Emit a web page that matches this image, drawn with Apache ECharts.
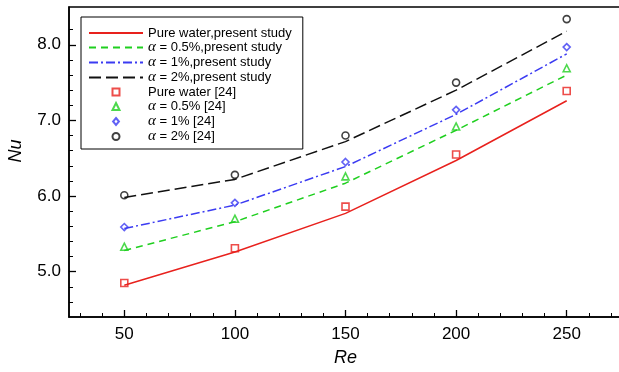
<!DOCTYPE html>
<html>
<head>
<meta charset="utf-8">
<script src="https://cdn.jsdelivr.net/npm/echarts@6/dist/echarts.min.js"></script>
<style>
  html, body { margin: 0; padding: 0; background: #fff; }
  #main { width: 619px; height: 372px; }
</style>
</head>
<body>
<div id="main"></div>
<script>
// Re values
const reValues = [50, 100, 150, 200, 250];

// present study (lines)
const pureWaterLine = [4.82, 5.26, 5.77, 6.47, 7.26];
const alpha05Line = [5.28, 5.66, 6.17, 6.87, 7.6];
const alpha1Line = [5.57, 5.88, 6.39, 7.08, 7.88];
const alpha2Line = [5.98, 6.22, 6.72, 7.4, 8.18];

// reference [24] (markers)
const pureWaterRef = [4.85, 5.31, 5.86, 6.55, 7.39];
const alpha05Ref = [5.33, 5.7, 6.26, 6.92, 7.69];
const alpha1Ref = [5.59, 5.91, 6.45, 7.14, 7.97];
const alpha2Ref = [6.01, 6.28, 6.8, 7.5, 8.34];

// ticks
const xMajorTicks = [50, 100, 150, 200, 250];
const xMinorTicks = [30, 40, 60, 70, 80, 90, 110, 120, 130, 140, 160, 170, 180, 190, 210, 220, 230, 240, 260, 270];
const yMajorTicks = [5.0, 6.0, 7.0, 8.0];
const yMinorTicks = [4.6, 4.8, 5.2, 5.4, 5.6, 5.8, 6.2, 6.4, 6.6, 6.8, 7.2, 7.4, 7.6, 7.8, 8.2];

const pairs = (ys) => reValues.map((x, i) => [x, ys[i]]);

const font = '"Liberation Sans", Arial, Helvetica, sans-serif';
const RED = '#e8211d', GREEN = '#1fcf1f', BLUE = '#3b3bf2', BLACK = '#111111';

// hollow marker outlines for the legend (kept to aspect)
const icons = {
  rect: 'path://M0,0L10,0L10,10L0,10Z',
  triangle: 'path://M5,0L10,10L0,10Z',
  diamond: 'path://M5,0L10,6L5,12L0,6Z',
  circle: 'path://M0,5A5,5 0 1,1 10,5A5,5 0 1,1 0,5Z'
};

const chart = echarts.init(document.getElementById('main'));

function lineSeries(name, data, color, type) {
  return {
    name: name, type: 'line', data: pairs(data), symbol: 'none',
    lineStyle: { color: color, width: 1.5, type: type },
    itemStyle: { color: color }, z: 2
  };
}
function markerSeries(name, data, color, symbol) {
  return {
    name: name, type: 'scatter', data: pairs(data), symbol: symbol, symbolSize: 7,
    itemStyle: { color: 'rgba(255,255,255,0)', borderColor: color, borderWidth: 1.6 }, z: 3
  };
}

const lineNames = ['Pure water,present study', 'α = 0.5%,present study', 'α = 1%,present study', 'α = 2%,present study'];
const refNames = ['Pure water [24]', 'α = 0.5% [24]', 'α = 1% [24]', 'α = 2% [24]'];
const refSymbols = ['rect', 'triangle', 'diamond', 'circle'];

const minMax = { min: 25, max: 275 };
const yMinMax = { min: 4.4, max: 8.5 };

const option = {
  animation: false,
  backgroundColor: '#fff',
  grid: {
    left: 69, top: 7, width: 553, height: 310,
    outerBoundsMode: 'none',
    show: true, borderColor: '#000', borderWidth: 1.5, backgroundColor: 'transparent'
  },
  legend: {
    orient: 'vertical', left: 81, top: 17,
    padding: [9, 11, 5, 7],
    backgroundColor: '#fff', borderColor: '#000', borderWidth: 1,
    itemWidth: 54, itemHeight: 7, itemGap: 0,
    symbolKeepAspect: true,
    textStyle: {
      fontFamily: font, fontSize: 13, color: '#000', lineHeight: 14,
      rich: { a: { fontFamily: '"Liberation Serif", "DejaVu Serif", serif', fontStyle: 'italic', fontSize: 15, lineHeight: 14 } }
    },
    formatter: (name) => name.replace('α', '{a|α}'),
    data: lineNames.map((n) => ({ name: n, itemStyle: { color: 'rgba(0,0,0,0)', borderWidth: 0 } }))
      .concat(refNames.map((n, i) => ({ name: n, icon: icons[refSymbols[i]] })))
  },
  xAxis: [
    Object.assign({
      type: 'value', name: 'Re', nameLocation: 'middle', nameGap: 32,
      nameTextStyle: { fontFamily: font, fontSize: 18, fontStyle: 'italic', color: '#000' },
      axisLine: { lineStyle: { color: '#000', width: 1.5 } },
      axisTick: { inside: true, length: 7, lineStyle: { color: '#000', width: 1.3 }, customValues: xMajorTicks },
      axisLabel: { customValues: xMajorTicks, fontFamily: font, fontSize: 17, color: '#000', margin: 9 },
      splitLine: { show: false }
    }, minMax),
    Object.assign({
      type: 'value', position: 'bottom',
      axisLine: { show: false },
      axisTick: { inside: true, length: 4, lineStyle: { color: '#000', width: 1 }, customValues: xMinorTicks },
      axisLabel: { show: false },
      splitLine: { show: false }
    }, minMax)
  ],
  yAxis: [
    Object.assign({
      type: 'value', name: 'Nu', nameLocation: 'middle', nameGap: 44, nameRotate: 90,
      nameTextStyle: { fontFamily: font, fontSize: 18, fontStyle: 'italic', color: '#000', padding: [0, 0, 0, 22] },
      axisLine: { lineStyle: { color: '#000', width: 1.5 } },
      axisTick: { inside: true, length: 7, lineStyle: { color: '#000', width: 1.3 }, customValues: yMajorTicks },
      axisLabel: { customValues: yMajorTicks, fontFamily: font, fontSize: 17, color: '#000', margin: 8,
                   formatter: (v) => v.toFixed(1) },
      splitLine: { show: false }
    }, yMinMax),
    Object.assign({
      type: 'value', position: 'left', offset: 0,
      axisLine: { show: false },
      axisTick: { inside: true, length: 4, lineStyle: { color: '#000', width: 1 }, customValues: yMinorTicks },
      axisLabel: { show: false },
      splitLine: { show: false }
    }, yMinMax)
  ],
  series: [
    lineSeries(lineNames[0], pureWaterLine, RED, 'solid'),
    lineSeries(lineNames[1], alpha05Line, GREEN, [7, 5]),
    lineSeries(lineNames[2], alpha1Line, BLUE, [9, 3, 2, 3]),
    lineSeries(lineNames[3], alpha2Line, BLACK, [12, 5]),
    markerSeries(refNames[0], pureWaterRef, RED, refSymbols[0]),
    markerSeries(refNames[1], alpha05Ref, GREEN, refSymbols[1]),
    markerSeries(refNames[2], alpha1Ref, BLUE, refSymbols[2]),
    markerSeries(refNames[3], alpha2Ref, BLACK, refSymbols[3])
  ]
};

chart.setOption(option);
</script>
</body>
</html>
